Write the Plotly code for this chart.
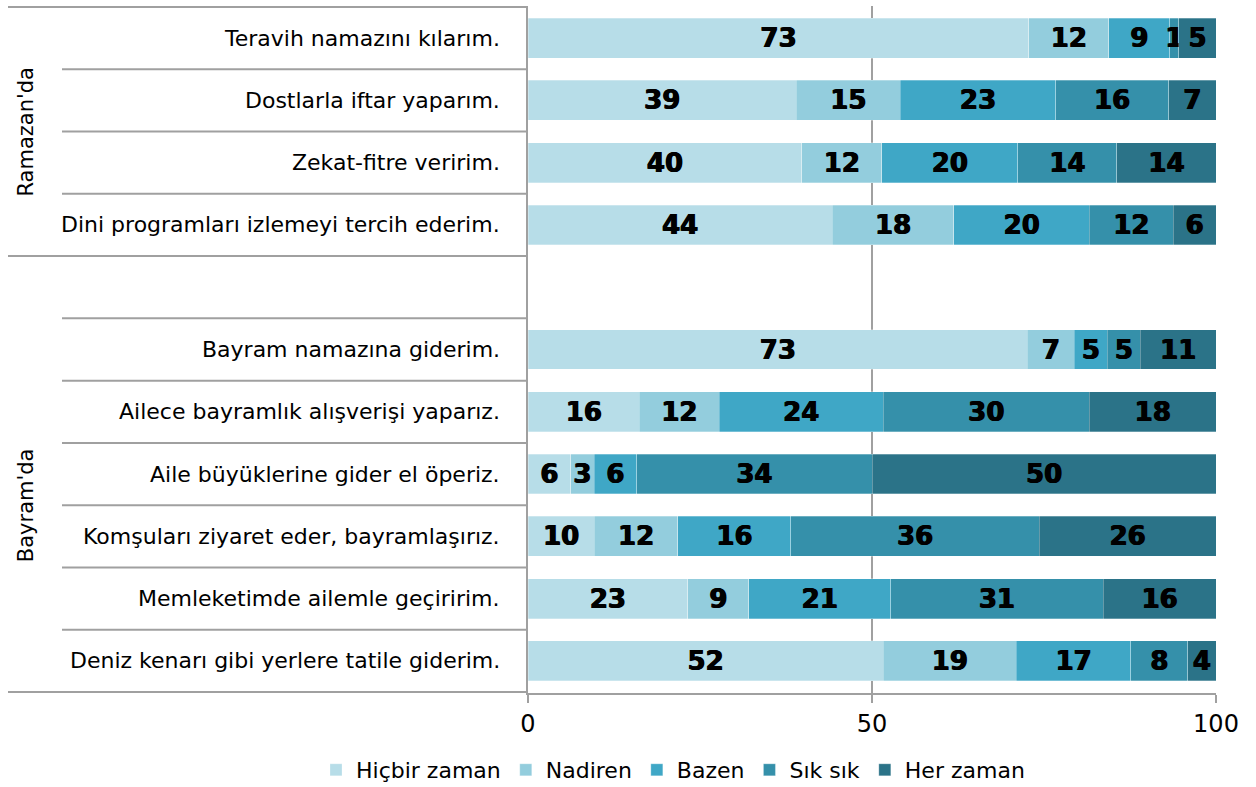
import plotly.graph_objects as go

# ---- data ----
items = [
    "Teravih namazını kılarım.",
    "Dostlarla iftar yaparım.",
    "Zekat-fitre veririm.",
    "Dini programları izlemeyi tercih ederim.",
    "Bayram namazına giderim.",
    "Ailece bayramlık alışverişi yaparız.",
    "Aile büyüklerine gider el öperiz.",
    "Komşuları ziyaret eder, bayramlaşırız.",
    "Memleketimde ailemle geçiririm.",
    "Deniz kenarı gibi yerlere tatile giderim.",
]
blank_row = " "
category_order = items[:4] + [blank_row] + items[4:]

series_names = ["Hiçbir zaman", "Nadiren", "Bazen", "Sık sık", "Her zaman"]
hicbir_zaman = [72.8, 39.0, 39.8, 44.2, 72.6, 16.2, 6.2, 9.6, 23.2, 51.6]
nadiren      = [11.6, 15.1, 11.6, 17.7, 6.8, 11.6, 3.4, 12.2, 8.9, 19.4]
bazen        = [8.9, 22.6, 19.8, 19.7, 4.8, 23.8, 6.2, 16.4, 20.6, 16.6]
sik_sik      = [1.3, 16.4, 14.4, 12.2, 4.8, 30.0, 34.2, 36.1, 30.9, 8.3]
her_zaman    = [5.4, 6.9, 14.4, 6.2, 11.0, 18.4, 50.0, 25.7, 16.4, 4.1]

groups = ["Ramazan'da", "Bayram'da"]
x_ticks = [0, 50, 100]

colors = ["#b7dde8", "#93cddd", "#3fa7c6", "#3590aa", "#2b7388"]

# ---- figure ----
fig = go.Figure()
for name, vals, col in zip(series_names,
                           [hicbir_zaman, nadiren, bazen, sik_sik, her_zaman],
                           colors):
    fig.add_trace(go.Bar(
        name=name, y=items, x=vals, orientation="h",
        marker=dict(color=col, line=dict(color="rgba(255,255,255,0.35)", width=0.8)),
        texttemplate="%{x:.0f}", textposition="inside", insidetextanchor="middle",
        textfont=dict(family="DejaVu Sans", size=26, color="black", weight="bold",
                      shadow="0.7px 0px 0px black, -0.5px 0px 0px black"),
        hoverinfo="skip",
    ))

def px_to_paper(px):
    return (px - 528) / 688.0

LINE = "#a0a0a0"
fig.update_layout(
    barmode="stack",
    bargap=0.36,
    width=1256, height=787,
    margin=dict(l=528, r=40, t=6, b=94, autoexpand=False),
    plot_bgcolor="white", paper_bgcolor="white",
    uniformtext=dict(mode="show", minsize=26),
    font=dict(family="DejaVu Sans", color="black"),
    showlegend=True,
    legend=dict(orientation="h", x=px_to_paper(316), xanchor="left",
                y=(693 - 770) / 687.0, yanchor="middle",
                font=dict(size=22, family="DejaVu Sans"), traceorder="normal",
                itemwidth=30, tracegroupgap=0),
    xaxis=dict(range=[0, 100], tickvals=x_ticks, showgrid=True, gridcolor=LINE, gridwidth=1.5,
               zeroline=False, showline=True, linecolor=LINE, linewidth=1.5,
               ticks="outside", ticklen=8, tickcolor=LINE, tickwidth=1.5,
               tickfont=dict(size=24, family="DejaVu Sans", color="black"), fixedrange=True),
    yaxis=dict(type="category", categoryorder="array", categoryarray=category_order,
               autorange="reversed", showticklabels=False, showgrid=False, zeroline=False,
               showline=True, linecolor=LINE, linewidth=1.5, ticks=""),
)

# category labels
for it in items:
    fig.add_annotation(xref="paper", yref="y", x=0, y=it, text=it, showarrow=False,
                       xanchor="right", yanchor="middle", xshift=-26,
                       font=dict(size=22, family="DejaVu Sans", color="black"))

# separator lines in the label area
n = len(category_order)
group_bounds = [-0.5, 3.5, n - 0.5]
for i in range(n + 1):
    yb = i - 0.5
    x0 = px_to_paper(8) if yb in group_bounds else px_to_paper(62)
    fig.add_shape(type="line", xref="paper", yref="y", x0=x0, x1=0, y0=yb, y1=yb,
                  line=dict(color=LINE, width=2))

# group labels
fig.add_annotation(xref="paper", yref="y", x=px_to_paper(26), y=1.5, text=groups[0],
                   textangle=-90, showarrow=False, xanchor="center", yanchor="middle",
                   font=dict(size=21, family="DejaVu Sans", color="black"))
fig.add_annotation(xref="paper", yref="y", x=px_to_paper(26), y=7.5, text=groups[1],
                   textangle=-90, showarrow=False, xanchor="center", yanchor="middle",
                   font=dict(size=21, family="DejaVu Sans", color="black"))

fig.write_html("out.html", config={"displayModeBar": False},
               post_script="document.body.style.margin='0px';")
